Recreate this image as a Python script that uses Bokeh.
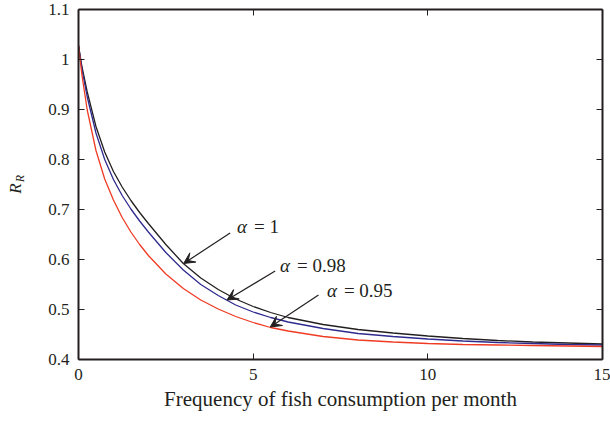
import math
from bokeh.plotting import figure
from bokeh.layouts import row
from bokeh.models import LinearAxis, Arrow, VeeHead, FixedTicker, Range1d, ColumnDataSource
from bokeh.core.properties import value
from bokeh.embed import file_html
from bokeh.resources import INLINE

# ---- data ----
freq = [0, 0.1, 0.25, 0.5, 0.75, 1, 1.25, 1.5, 1.75, 2, 2.5, 3, 3.5, 4, 4.5, 5, 5.5, 6,
        7, 8, 9, 10, 11, 12, 13, 14, 15]
rr_alpha_1 = [1.028, 0.985, 0.935, 0.866, 0.815, 0.776, 0.745, 0.718, 0.694, 0.672, 0.630,
              0.592, 0.563, 0.540, 0.521, 0.506, 0.494, 0.484, 0.470, 0.460, 0.453, 0.447,
              0.442, 0.438, 0.435, 0.433, 0.431]
rr_alpha_098 = [1.028, 0.980, 0.925, 0.853, 0.800, 0.760, 0.728, 0.701, 0.677, 0.655, 0.614,
                0.579, 0.550, 0.528, 0.509, 0.495, 0.484, 0.475, 0.462, 0.452, 0.446, 0.441,
                0.437, 0.434, 0.432, 0.430, 0.429]
rr_alpha_095 = [1.028, 0.968, 0.899, 0.818, 0.761, 0.719, 0.684, 0.655, 0.630, 0.608, 0.571,
                0.542, 0.519, 0.501, 0.486, 0.474, 0.464, 0.457, 0.446, 0.439, 0.435, 0.432,
                0.430, 0.429, 0.428, 0.427, 0.426]

x_ticks = [0, 5, 10, 15]
y_ticks = [0.4, 0.5, 0.6, 0.7, 0.8, 0.9, 1.0, 1.1]
y_tick_labels = ["0.4", "0.5", "0.6", "0.7", "0.8", "0.9", "1", "1.1"]

annot_alpha = ["1", "0.98", "0.95"]
annot_text_x = [4.54, 5.77, 7.11]
annot_text_y = [0.667, 0.589, 0.539]
arrow_x0 = [4.34, 5.63, 6.87]
arrow_y0 = [0.653, 0.577, 0.529]
arrow_x1 = [3.01, 4.25, 5.49]
arrow_y1 = [0.592, 0.519, 0.465]

x_label = "Frequency of fish consumption per month"
y_label_main = "R"
y_label_sub = "R"

# ---- styling ----
FONT = "Liberation Serif"
AXC = "#231f20"
colors = ["#231f20", "#2e2a8f", "#ef3b24"]
H = 420
LW = 30

p = figure(width=610 - LW, height=H, x_range=Range1d(0, 15), y_range=Range1d(0.4, 1.1),
           title=None, output_backend="svg", toolbar_location=None,
           min_border_left=78 - LW, min_border_right=8, min_border_top=9, min_border_bottom=H - 359,
           x_axis_location=None, y_axis_location=None)
p.grid.visible = False
p.outline_line_color = None

for yv, c in zip([rr_alpha_1, rr_alpha_098, rr_alpha_095], colors):
    p.line(freq, yv, line_color=c, line_width=1.3)

def make_axis(loc, ticks, labels=True):
    ax = LinearAxis(ticker=FixedTicker(ticks=ticks))
    ax.axis_line_color = AXC
    ax.axis_line_width = 2
    ax.major_tick_in = 6
    ax.major_tick_out = 0
    ax.major_tick_line_color = AXC
    ax.major_tick_line_width = 1
    ax.minor_tick_line_color = None
    if labels:
        ax.major_label_text_font = FONT
        ax.major_label_text_font_size = "17px"
        ax.major_label_text_color = AXC
        ax.major_label_standoff = 9
    else:
        ax.major_label_text_font_size = "0px"
        ax.major_label_standoff = 0
        ax.major_label_text_color = None
    p.add_layout(ax, loc)
    return ax

xb = make_axis("below", x_ticks)
xb.axis_label = x_label
xb.axis_label_text_font = FONT
xb.axis_label_text_font_size = "21px"
xb.axis_label_text_font_style = "normal"
xb.axis_label_text_color = AXC
xb.axis_label_standoff = 4
yl = make_axis("left", y_ticks)
yl.major_label_overrides = {t: s for t, s in zip(y_ticks, y_tick_labels)}
make_axis("above", x_ticks, labels=False)
make_axis("right", y_ticks, labels=False)

# annotations
src = ColumnDataSource(dict(x=annot_text_x, y=annot_text_y,
                            rest=["= " + a for a in annot_alpha],
                            greek=["\u03b1"] * len(annot_alpha)))
p.text(x="x", y="y", text="greek", source=src, text_font=value(FONT),
       text_font_style="italic", text_font_size="19px", text_color=AXC,
       text_baseline="middle", text_align="left")
p.text(x="x", y="y", text="rest", source=src, text_font=value(FONT),
       text_font_size="19px", text_color=AXC, text_baseline="middle", text_align="left",
       x_offset=17)

for xs, ys, xe, ye in zip(arrow_x0, arrow_y0, arrow_x1, arrow_y1):
    p.add_layout(Arrow(end=VeeHead(size=11, fill_color=AXC, line_color=AXC, line_width=1),
                       x_start=xs, y_start=ys, x_end=xe, y_end=ye,
                       line_color=AXC, line_width=1.2))

# y-axis label panel (R with subscript R), pixel coordinates
lab = figure(width=LW, height=H, x_range=Range1d(0, LW), y_range=Range1d(0, H),
             title=None, output_backend="svg", toolbar_location=None, min_border=0,
             x_axis_location=None, y_axis_location=None)
lab.grid.visible = False
lab.outline_line_color = None
lab.text(x=[15], y=[H - 215], text=[y_label_main], angle=math.pi / 2, text_font=value(FONT),
         text_font_style="italic", text_font_size="17px", text_color=AXC,
         text_align="center", text_baseline="middle")
lab.text(x=[19], y=[H - 203], text=[y_label_sub], angle=math.pi / 2, text_font=value(FONT),
         text_font_style="italic", text_font_size="12px", text_color=AXC,
         text_align="center", text_baseline="middle")

layout = row(lab, p, spacing=0)
open("out.html", "w").write(file_html(layout, INLINE))
